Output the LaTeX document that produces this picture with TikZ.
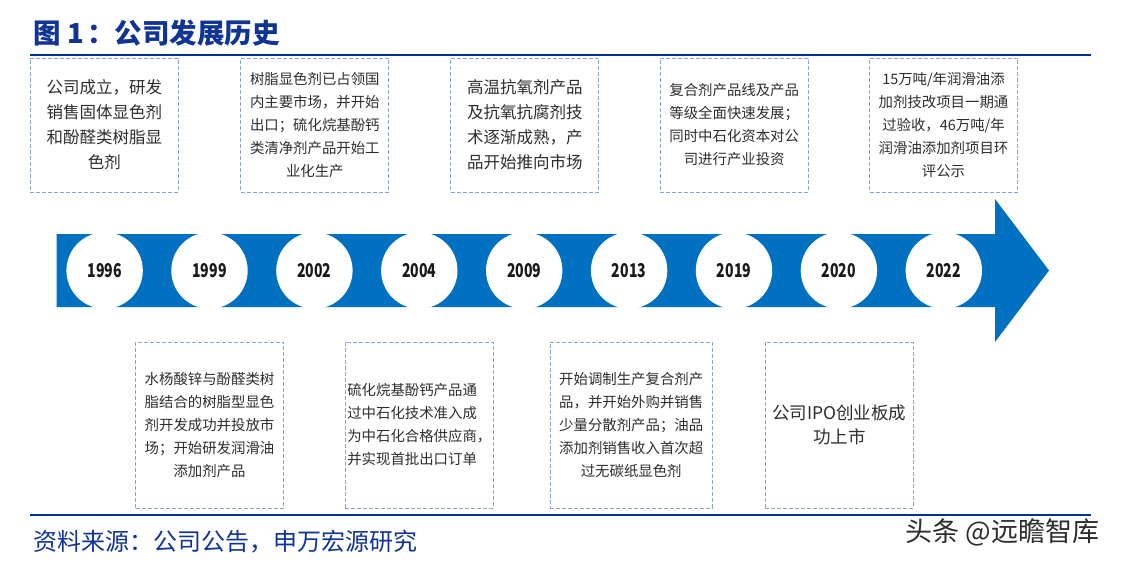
\documentclass[tikz,border=0pt]{standalone}
\usepackage{fontspec}
\setmainfont{Noto Sans CJK SC}
\definecolor{titleblue}{RGB}{16,52,148}
\definecolor{ruleblue}{RGB}{0,48,150}
\definecolor{arrowblue}{RGB}{0,112,192}
\definecolor{boxblue}{RGB}{132,164,220}
\definecolor{textgrey}{RGB}{45,45,45}
\newcommand{\narrow}[1]{\scalebox{0.74}[1]{#1}}
\begin{document}
\begin{tikzpicture}[x=1pt,y=-1pt,
    evt/.style={draw=boxblue, line width=1pt, dash pattern=on 4pt off 2pt,
      minimum width=148pt, inner sep=0pt, align=center, text=textgrey,
      font=\fontsize{14.4}{23}\selectfont},
    top/.style={evt, minimum height=134pt},
    bot/.style={evt, minimum height=166pt},
    big/.style={font=\fontsize{16.5}{25}\selectfont},
    yr/.style={circle, fill=white, minimum size=76.4pt, inner sep=0pt,
      text=black!90, font=\bfseries\fontsize{19}{19}\selectfont}]
      \useasboundingbox (0,0) rectangle (1121,566);

      % title and rules
      \node (title) at (30,43) [anchor=base west, text=titleblue,
        font=\bfseries\fontsize{27.5}{27.5}\selectfont]{图 1\hspace{3pt}：公司发展历史};
      \draw[ruleblue, line width=2pt] (30,54.5)--(1091,54.5);
      \draw[ruleblue, line width=2pt] (30,514.5)--(1091,514.5);

      % timeline arrow
      \fill[arrowblue] (56.5,234)--(995,234)--(995,199)--(1049,270.5)
        --(995,342)--(995,307)--(56.5,307)--cycle;
      \begin{scope}
        \clip (56.5,234) rectangle (995,307);
        \foreach \yy [count=\i from 0] in {1996,1999,2002,2004,2009,2013,2019,2020,2022}
        {
            \node (y\yy) at (104.6+104.9*\i, 270.5) [yr]{\narrow{\yy}};
        }
      \end{scope}

      % events above
      \node (e1996) at (104.3,125) [top,big]{公司成立，研发\\销售固体显色剂\\和酚醛类树脂显\\色剂};
      \node (e2002) at (314.8,125) [top]{树脂显色剂已占领国\\内主要市场，并开始\\出口；硫化烷基酚钙\\类清净剂产品开始工\\业化生产};
      \node (e2009) at (524.8,125) [top,big]{高温抗氧剂产品\\及抗氧抗腐剂技\\术逐渐成熟，产\\品开始推向市场};
      \node (e2019) at (734.2,125) [top]{复合剂产品线及产品\\等级全面快速发展；\\同时中石化资本对公\\司进行产业投资};
      \node (e2022) at (943.5,125) [top]{15万吨/年润滑油添\\加剂技改项目一期通\\过验收，46万吨/年\\润滑油添加剂项目环\\评公示};

      % events below
      \node (e1999) at (209.5,425) [bot]{水杨酸锌与酚醛类树\\脂结合的树脂型显色\\剂开发成功并投放市\\场；开始研发润滑油\\添加剂产品};
      \node (e2004) at (419.3,425) [bot, align=left]{硫化烷基酚钙产品通\\过中石化技术准入成\\为中石化合格供应商，\\并实现首批出口订单};
      \node (e2013) at (631.2,425) [bot, minimum width=162pt]{开始调制生产复合剂产\\品，并开始外购并销售\\少量分散剂产品；油品\\添加剂销售收入首次超\\过无碳纸显色剂};
      \node (e2020) at (839.3,425) [bot, font=\fontsize{17.5}{24}\selectfont]{公司IPO创业板成\\功上市};

      % source and mark
      \node (src) at (30,550) [anchor=base west, text=titleblue,
        font=\fontsize{24}{24}\selectfont]{资料来源：公司公告，申万宏源研究};
      \node (mark) at (1103,541) [anchor=base east, text=textgrey,
        font=\fontsize{27}{27}\selectfont]{头条 @远瞻智库};
\end{tikzpicture}
\end{document}
